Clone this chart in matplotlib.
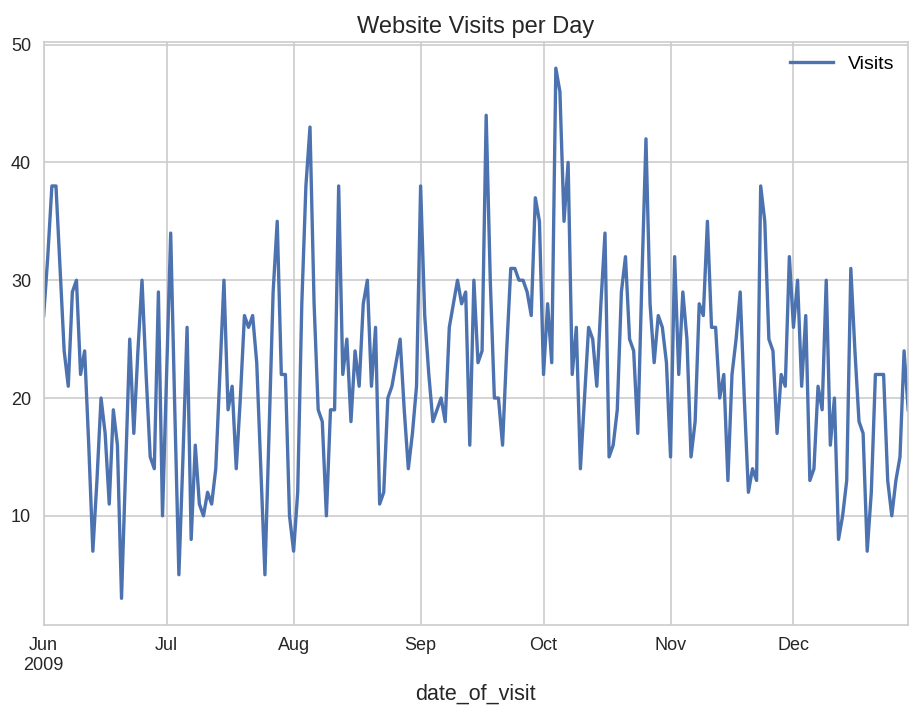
import matplotlib
matplotlib.use('Agg')
import matplotlib.pyplot as plt
import matplotlib.dates as mdates
import matplotlib.ticker as mticker
import pandas as pd

# daily visits (starts 1 Jun 2009)
start_date = '2009-06-01'
visits = [
    27, 32, 38, 38, 31, 24, 21, 29, 30, 22, 24, 16, 7, 13, 20, 17, 11, 19, 16, 3,
    14, 25, 17, 24, 30, 22, 15, 14, 29, 10, 22, 34, 19, 5, 15, 26, 8, 16, 11, 10,
    12, 11, 14, 22, 30, 19, 21, 14, 20, 27, 26, 27, 23, 14, 5, 17, 29, 35, 22, 22,
    10, 7, 12, 28, 38, 43, 28, 19, 18, 10, 19, 19, 38, 22, 25, 18, 24, 21, 28, 30,
    21, 26, 11, 12, 20, 21, 23, 25, 19, 14, 17, 21, 38, 27, 22, 18, 19, 20, 18, 26,
    28, 30, 28, 29, 16, 30, 23, 24, 44, 30, 20, 20, 16, 24, 31, 31, 30, 30, 29, 27,
    37, 35, 22, 28, 23, 48, 46, 35, 40, 22, 26, 14, 20, 26, 25, 21, 28, 34, 15, 16,
    19, 29, 32, 25, 24, 17, 30, 42, 28, 23, 27, 26, 23, 15, 32, 22, 29, 25, 15, 18,
    28, 27, 35, 26, 26, 20, 22, 13, 22, 25, 29, 20, 12, 14, 13, 38, 35, 25, 24, 17,
    22, 21, 32, 26, 30, 21, 27, 13, 14, 21, 19, 30, 16, 20, 8, 10, 13, 31, 24, 18,
    17, 7, 12, 22, 22, 22, 13, 10, 13, 15, 24, 19,
]
month_labels = ['Jun\n2009', 'Jul', 'Aug', 'Sep', 'Oct', 'Nov', 'Dec']

dates = pd.date_range(start_date, periods=len(visits), freq='D')
df = pd.DataFrame({'Visits': visits}, index=pd.Index(dates, name='date_of_visit'))

plt.rcParams['font.family'] = ['Liberation Sans', 'DejaVu Sans']
text_col = '#262626'
grid_col = '#cccccc'

fig = plt.figure(figsize=(9.1, 7.06), dpi=100)
ax = fig.add_axes([0.048, 0.115, 0.95, 0.826])

ax.plot(df.index, df['Visits'], color='#4C72B0', lw=2.4, label='Visits')
ax.margins(x=0, y=0.05)
ax.set_xlim(df.index[0], df.index[-1])

ax.xaxis.set_major_locator(mdates.MonthLocator())
ax.xaxis.set_major_formatter(mticker.FixedFormatter(month_labels))
ax.yaxis.set_major_locator(mticker.MultipleLocator(10))

ax.grid(True, color=grid_col, lw=1.2)
ax.set_axisbelow(True)
for s in ax.spines.values():
    s.set_color(grid_col)
    s.set_linewidth(1.2)
ax.tick_params(length=0, pad=9, labelsize=13, colors=text_col)
for lab in ax.get_xticklabels():
    lab.set_ha('center')

ax.set_xlabel('date_of_visit', fontsize=15.5, color=text_col, labelpad=7)
ax.set_title('Website Visits per Day', fontsize=17, color=text_col, pad=6)
ax.legend(loc='upper right', frameon=False, fontsize=14, handlelength=2.2,
          borderaxespad=0.3)

fig.savefig('out.png', dpi=100)
